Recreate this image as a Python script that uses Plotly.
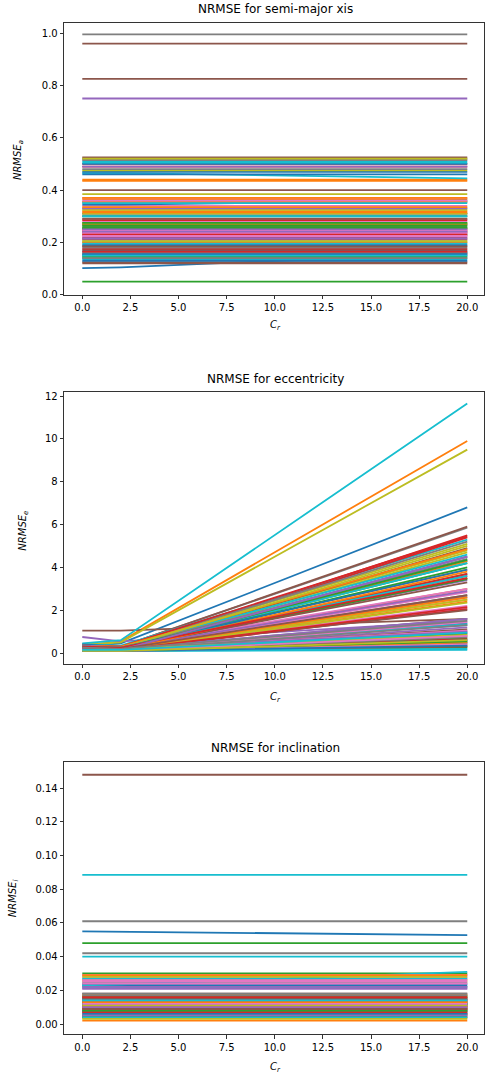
import plotly.graph_objects as go

# ---------------- data ----------------
CR = [0, 2, 20]

# semi-major axis NRMSE, one list per object (values at CR points)
nrmse_a = [
    [0.102, 0.105, 0.16], [0.44, 0.44, 0.44], [0.05, 0.05, 0.05], [0.49, 0.49, 0.49], [0.75, 0.75, 0.75],
    [0.96, 0.96, 0.96], [0.28, 0.28, 0.28], [0.995, 0.995, 0.995], [0.385, 0.385, 0.385], [0.465, 0.465, 0.445],
    [0.47, 0.47, 0.47], [0.435, 0.435, 0.435], [0.26, 0.26, 0.26], [0.245, 0.245, 0.245], [0.23, 0.23, 0.23],
    [0.825, 0.825, 0.825], [0.30, 0.30, 0.30], [0.21, 0.21, 0.21], [0.20, 0.20, 0.20], [0.355, 0.355, 0.355],
    [0.15, 0.15, 0.15], [0.365, 0.365, 0.365], [0.31, 0.31, 0.31], [0.175, 0.175, 0.175], [0.22, 0.22, 0.22],
    [0.40, 0.40, 0.40], [0.34, 0.34, 0.34], [0.18, 0.18, 0.18], [0.33, 0.33, 0.33], [0.51, 0.51, 0.51],
    [0.345, 0.345, 0.36], [0.32, 0.32, 0.32], [0.255, 0.255, 0.255], [0.24, 0.24, 0.24], [0.49, 0.49, 0.49],
    [0.125, 0.125, 0.125], [0.225, 0.225, 0.225], [0.52, 0.52, 0.52], [0.475, 0.475, 0.475], [0.14, 0.14, 0.14],
    [0.46, 0.46, 0.46], [0.20, 0.20, 0.20], [0.27, 0.27, 0.27], [0.50, 0.50, 0.50], [0.235, 0.235, 0.235],
    [0.17, 0.17, 0.17], [0.29, 0.29, 0.29], [0.185, 0.185, 0.185], [0.325, 0.325, 0.325], [0.195, 0.195, 0.195],
    [0.165, 0.165, 0.165], [0.355, 0.355, 0.355], [0.30, 0.30, 0.30], [0.25, 0.25, 0.25], [0.33, 0.33, 0.33],
    [0.525, 0.525, 0.525], [0.245, 0.245, 0.245], [0.265, 0.265, 0.265], [0.205, 0.205, 0.205], [0.135, 0.135, 0.135],
    [0.50, 0.50, 0.50], [0.27, 0.27, 0.27], [0.145, 0.145, 0.145], [0.215, 0.215, 0.215], [0.31, 0.31, 0.31],
    [0.155, 0.155, 0.155], [0.37, 0.37, 0.37], [0.16, 0.16, 0.16], [0.23, 0.23, 0.23], [0.35, 0.35, 0.35],
    [0.13, 0.13, 0.13], [0.37, 0.37, 0.37], [0.255, 0.255, 0.255], [0.285, 0.285, 0.285], [0.24, 0.24, 0.24],
    [0.12, 0.12, 0.12], [0.235, 0.235, 0.235], [0.48, 0.48, 0.48], [0.31, 0.31, 0.31], [0.505, 0.505, 0.505],
    [0.19, 0.19, 0.19], [0.315, 0.315, 0.315], [0.265, 0.265, 0.265], [0.165, 0.165, 0.165], [0.215, 0.215, 0.215],
    [0.29, 0.29, 0.29], [0.36, 0.36, 0.36], [0.515, 0.515, 0.515], [0.275, 0.275, 0.275], [0.30, 0.30, 0.30],
    [0.155, 0.155, 0.155], [0.335, 0.335, 0.335], [0.275, 0.275, 0.275], [0.23, 0.23, 0.23], [0.25, 0.25, 0.25],
    [0.185, 0.185, 0.185], [0.225, 0.225, 0.225], [0.14, 0.14, 0.14], [0.52, 0.52, 0.52], [0.15, 0.15, 0.15],
]

# eccentricity NRMSE
nrmse_e = [
    [0.30, 0.45, 6.8], [0.35, 0.55, 9.9], [0.20, 0.15, 0.25], [0.25, 0.20, 5.5], [0.75, 0.55, 1.5],
    [1.05, 1.05, 1.6], [0.20, 0.15, 2.1], [0.30, 0.30, 5.85], [0.40, 0.50, 9.5], [0.45, 0.60, 11.65],
    [0.15, 0.20, 4.5], [0.30, 0.25, 3.9], [0.10, 0.10, 0.3], [0.25, 0.15, 2.05], [0.20, 0.15, 1.2],
    [0.35, 0.30, 5.9], [0.15, 0.10, 0.9], [0.20, 0.20, 2.7], [0.30, 0.25, 4.8], [0.40, 0.35, 5.3],
    [0.10, 0.15, 1.4], [0.20, 0.20, 3.0], [0.30, 0.20, 3.5], [0.20, 0.15, 5.4], [0.25, 0.20, 4.5],
    [0.30, 0.25, 2.6], [0.15, 0.15, 0.5], [0.25, 0.20, 1.6], [0.35, 0.30, 5.1], [0.10, 0.10, 0.15],
    [0.20, 0.20, 4.3], [0.25, 0.20, 2.5], [0.15, 0.12, 0.7], [0.30, 0.25, 3.6], [0.10, 0.10, 0.6],
    [0.25, 0.20, 4.9], [0.35, 0.30, 3.0], [0.15, 0.15, 1.0], [0.20, 0.20, 4.7], [0.30, 0.30, 4.6],
    [0.40, 0.30, 1.3], [0.20, 0.15, 2.4], [0.25, 0.20, 4.2], [0.15, 0.10, 0.8], [0.30, 0.25, 3.4],
    [0.20, 0.15, 1.1], [0.25, 0.20, 2.2], [0.35, 0.30, 5.2], [0.15, 0.10, 0.4], [0.20, 0.15, 1.35],
    [0.25, 0.20, 3.7], [0.30, 0.25, 4.3], [0.20, 0.15, 0.9], [0.35, 0.30, 5.45], [0.15, 0.10, 0.35],
    [0.20, 0.20, 2.0], [0.30, 0.20, 2.85], [0.10, 0.10, 0.45], [0.25, 0.20, 2.5], [0.15, 0.12, 0.55],
    [0.20, 0.15, 0.95], [0.35, 0.30, 4.85], [0.30, 0.20, 3.45], [0.10, 0.10, 0.65], [0.20, 0.20, 1.6],
    [0.15, 0.10, 0.5], [0.20, 0.15, 1.45], [0.30, 0.25, 4.4], [0.20, 0.15, 2.35], [0.25, 0.20, 4.2],
    [0.15, 0.10, 0.6], [0.25, 0.20, 2.6], [0.20, 0.20, 4.0], [0.25, 0.20, 3.7], [0.35, 0.25, 2.9],
    [0.10, 0.10, 0.3], [0.20, 0.20, 1.05], [0.15, 0.12, 0.75], [0.30, 0.25, 5.0], [0.10, 0.10, 0.2],
    [0.30, 0.25, 3.9], [0.15, 0.10, 0.5], [0.25, 0.20, 4.35], [0.20, 0.15, 2.15], [0.25, 0.20, 1.0],
    [0.30, 0.25, 3.3], [0.10, 0.10, 0.4], [0.20, 0.15, 1.3], [0.25, 0.20, 0.85], [0.30, 0.25, 3.6],
    [0.10, 0.10, 0.35], [0.20, 0.15, 3.8], [0.15, 0.12, 0.55], [0.30, 0.25, 3.5], [0.20, 0.15, 4.5],
    [0.25, 0.20, 2.7], [0.15, 0.12, 0.8], [0.25, 0.20, 1.5], [0.10, 0.10, 0.6], [0.15, 0.15, 0.95],
]

# inclination NRMSE
nrmse_i = [
    [0.055, 0.0548, 0.0528], [0.002, 0.002, 0.002], [0.048, 0.048, 0.048], [0.013, 0.013, 0.013], [0.009, 0.009, 0.009],
    [0.148, 0.148, 0.148], [0.028, 0.028, 0.028], [0.061, 0.061, 0.061], [0.025, 0.025, 0.025], [0.0885, 0.0885, 0.0885],
    [0.023, 0.023, 0.023], [0.012, 0.012, 0.012], [0.030, 0.030, 0.030], [0.008, 0.008, 0.008], [0.021, 0.021, 0.021],
    [0.017, 0.017, 0.017], [0.029, 0.029, 0.029], [0.042, 0.042, 0.042], [0.016, 0.016, 0.016], [0.040, 0.040, 0.040],
    [0.007, 0.007, 0.007], [0.015, 0.015, 0.015], [0.011, 0.011, 0.011], [0.005, 0.005, 0.005], [0.014, 0.014, 0.014],
    [0.018, 0.018, 0.018], [0.027, 0.027, 0.027], [0.022, 0.022, 0.022], [0.013, 0.013, 0.013], [0.023, 0.0235, 0.031],
    [0.010, 0.010, 0.010], [0.026, 0.026, 0.026], [0.006, 0.006, 0.006], [0.014, 0.014, 0.014], [0.012, 0.012, 0.012],
    [0.016, 0.016, 0.016], [0.025, 0.025, 0.025], [0.009, 0.009, 0.009], [0.015, 0.015, 0.015], [0.027, 0.027, 0.027],
    [0.005, 0.005, 0.005], [0.008, 0.008, 0.008], [0.013, 0.013, 0.013], [0.011, 0.011, 0.011], [0.006, 0.006, 0.006],
    [0.012, 0.012, 0.012], [0.029, 0.029, 0.029], [0.010, 0.010, 0.010], [0.017, 0.017, 0.017], [0.022, 0.022, 0.022],
    [0.024, 0.024, 0.024], [0.017, 0.017, 0.017], [0.009, 0.009, 0.009], [0.004, 0.004, 0.004], [0.021, 0.021, 0.021],
    [0.011, 0.011, 0.011], [0.013, 0.013, 0.013], [0.007, 0.007, 0.007], [0.009, 0.009, 0.009], [0.006, 0.006, 0.006],
    [0.012, 0.012, 0.012], [0.006, 0.006, 0.006], [0.016, 0.016, 0.016], [0.010, 0.010, 0.010], [0.005, 0.005, 0.005],
    [0.014, 0.014, 0.014], [0.026, 0.026, 0.026], [0.011, 0.011, 0.011], [0.028, 0.028, 0.028], [0.008, 0.008, 0.008],
    [0.008, 0.008, 0.008], [0.029, 0.029, 0.029], [0.004, 0.004, 0.004], [0.007, 0.007, 0.007], [0.015, 0.015, 0.015],
    [0.013, 0.013, 0.013], [0.024, 0.024, 0.024], [0.017, 0.017, 0.017], [0.006, 0.006, 0.006], [0.012, 0.012, 0.012],
    [0.015, 0.015, 0.015], [0.010, 0.010, 0.010], [0.012, 0.012, 0.012], [0.009, 0.009, 0.009], [0.022, 0.022, 0.022],
    [0.015, 0.015, 0.015], [0.006, 0.006, 0.006], [0.014, 0.014, 0.014], [0.011, 0.011, 0.011], [0.004, 0.004, 0.004],
    [0.006, 0.006, 0.006], [0.013, 0.013, 0.013], [0.008, 0.008, 0.008], [0.016, 0.016, 0.016], [0.010, 0.010, 0.010],
    [0.009, 0.009, 0.009], [0.012, 0.012, 0.012], [0.018, 0.018, 0.018], [0.003, 0.003, 0.003], [0.014, 0.014, 0.014],
]

TITLES = ["NRMSE for semi-major xis", "NRMSE for eccentricity", "NRMSE for inclination"]
YLABELS = ["<i>NRMSE</i><sub><i>a</i></sub>", "<i>NRMSE</i><sub><i>e</i></sub>", "<i>NRMSE</i><sub><i>i</i></sub>"]
XLABEL = "<i>C</i><sub><i>r</i></sub>"
X_TICKS = [0, 2.5, 5, 7.5, 10, 12.5, 15, 17.5, 20]
Y_TICKS = [
    [0.0, 0.2, 0.4, 0.6, 0.8, 1.0],
    [0, 2, 4, 6, 8, 10, 12],
    [0.00, 0.02, 0.04, 0.06, 0.08, 0.10, 0.12, 0.14],
]

# ---------------- style ----------------
TAB10 = ["#1f77b4", "#ff7f0e", "#2ca02c", "#d62728", "#9467bd",
         "#8c564b", "#e377c2", "#7f7f7f", "#bcbd22", "#17becf"]
W, H = 485, 1084
ML = 64
PW = W - ML
FONT = "DejaVu Sans"

# pixel geometry of each axes box (top, bottom) and title / xlabel / ylabel positions
BOXES = [(22, 295.7), (393.3, 667.3), (765.7, 1040)]
TITLE_Y = [8.5, 380.5, 752]
XLAB_Y = [327, 701.5, 1073]
YLAB_XY = [(19, 160), (23, 533), (13, 903)]
Y_RANGES = [[0.0, 1.039], [-0.51, 12.2], [-0.0061, 0.1557]]
Y_FMT = [".1f", "d", ".2f"]
X_RANGE = [-0.95, 20.87]

fig = go.Figure()
datasets = [nrmse_a, nrmse_e, nrmse_i]
for k, data in enumerate(datasets):
    xa = "x" if k == 0 else f"x{k+1}"
    ya = "y" if k == 0 else f"y{k+1}"
    for j, series in enumerate(data):
        fig.add_trace(go.Scatter(
            x=CR, y=series, mode="lines", xaxis=xa, yaxis=ya,
            line=dict(color=TAB10[j % 10], width=1.8),
            showlegend=False, hoverinfo="skip",
        ))

axis_common = dict(
    showgrid=False, zeroline=False, showline=True, linecolor="black", linewidth=0.8,
    mirror=True, ticks="outside", ticklen=3.5, tickwidth=0.8, tickcolor="black",
    tickfont=dict(family=FONT, size=10, color="black"),
)

layout = dict(
    width=W, height=H, autosize=False,
    margin=dict(l=ML, r=0, t=0, b=0, pad=0),
    paper_bgcolor="white", plot_bgcolor="white",
    font=dict(family=FONT, size=10, color="black"),
    showlegend=False,
)
annotations = []
for k in range(3):
    top, bot = BOXES[k]
    xname = "xaxis" if k == 0 else f"xaxis{k+1}"
    yname = "yaxis" if k == 0 else f"yaxis{k+1}"
    xa = "x" if k == 0 else f"x{k+1}"
    ya = "y" if k == 0 else f"y{k+1}"
    layout[xname] = dict(axis_common, domain=[0, 1], range=X_RANGE, anchor=ya,
                         tickvals=X_TICKS, ticktext=[f"{v:.1f}" for v in X_TICKS])
    layout[yname] = dict(axis_common, domain=[1 - bot / H, 1 - top / H], range=Y_RANGES[k],
                         anchor=xa, tickvals=Y_TICKS[k],
                         ticktext=[format(v, Y_FMT[k]) if Y_FMT[k] != "d" else str(v) for v in Y_TICKS[k]])
    cx = (64 + 487.6) / 2
    annotations.append(dict(text=TITLES[k], xref="paper", yref="paper",
                            x=(cx - ML) / PW, y=1 - TITLE_Y[k] / H, showarrow=False,
                            xanchor="center", yanchor="middle",
                            font=dict(family=FONT, size=12, color="black")))
    annotations.append(dict(text=XLABEL, xref="paper", yref="paper",
                            x=(cx - ML) / PW, y=1 - XLAB_Y[k] / H, showarrow=False,
                            xanchor="center", yanchor="middle",
                            font=dict(family=FONT, size=10, color="black")))
    lx, ly = YLAB_XY[k]
    annotations.append(dict(text=YLABELS[k], xref="paper", yref="paper",
                            x=(lx - ML) / PW, y=1 - ly / H, showarrow=False, textangle=-90,
                            xanchor="center", yanchor="middle",
                            font=dict(family=FONT, size=10, color="black")))
layout["annotations"] = annotations
fig.update_layout(**layout)

fig.write_html("out.html", config={"displayModeBar": False, "staticPlot": True},
               post_script="document.body.style.margin='0';document.body.style.padding='0';")
